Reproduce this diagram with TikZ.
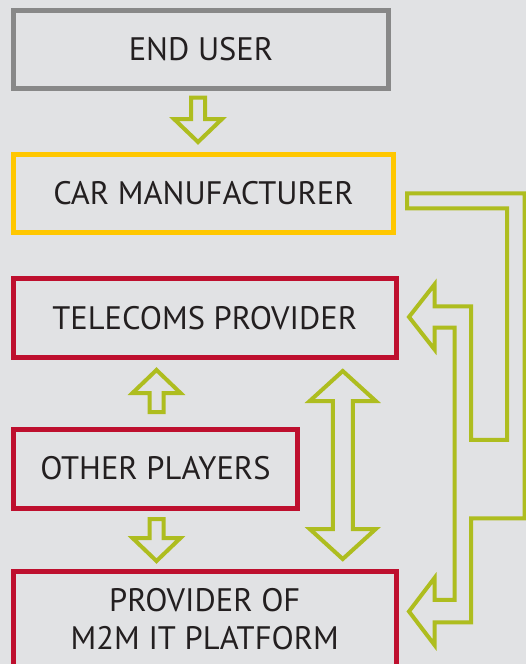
\documentclass[tikz,border=0pt]{standalone}
\usepackage{fontspec}
\setmainfont{PT Sans}
\usetikzlibrary{calc}

\definecolor{bggray}{HTML}{E1E2E4}
\definecolor{usergray}{HTML}{888888}
\definecolor{caryellow}{HTML}{FFC700}
\definecolor{m2mred}{HTML}{BE0F2E}
\definecolor{leafgreen}{HTML}{AEBD1F}
\definecolor{textdark}{HTML}{231F20}

\tikzset{
  box/.style={rectangle, draw, line width=5pt, outer sep=0pt, inner sep=0pt,
    text=textdark, font=\fontsize{32.5}{38}\selectfont, align=center},
  blockarrow/.style={draw=leafgreen, line width=4pt, line join=miter},
}

% hollow block arrow, vertical, from #1 to #2
\newcommand\blockarrow[2]{%
  \draw[blockarrow] let \p1=#1, \p2=#2, \n1={sign(\y2-\y1)} in
    (\x1-7pt,\y1) -- (\x1+7pt,\y1) -- (\x1+7pt,\y2-23pt*\n1) -- (\x1+24pt,\y2-23pt*\n1)
    -- (\x1,\y2) -- (\x1-24pt,\y2-23pt*\n1) -- (\x1-7pt,\y2-23pt*\n1) -- cycle;}

\begin{document}
\begin{tikzpicture}[x=1pt,y=-1pt]

      \useasboundingbox (0,0) rectangle (526,664);
      \fill[bggray] (0,0) rectangle (526,664);

      \begin{scope}[every node/.style={box}]
        \node[draw=usergray, minimum width=375pt, minimum height=78.5pt] (user) at (201,49.25) {END USER};
        \node[draw=caryellow, minimum width=380pt, minimum height=78.5pt] (car) at (203.5,193.25) {CAR MANUFACTURER};
        \node[draw=m2mred, minimum width=382.5pt, minimum height=79pt] (telecom) at (204.75,318) {TELECOMS PROVIDER};
        \node[draw=m2mred, minimum width=284pt, minimum height=79pt] (players) at (155.5,468.5) {OTHER PLAYERS};
        \node[draw=m2mred, minimum width=382.5pt, minimum height=96pt] (platform) at (204.75,619.5) {PROVIDER OF\\M2M IT PLATFORM};
      \end{scope}


      \blockarrow{([xshift=-3pt,yshift=-9pt]user.south)}{([yshift=12pt]car.north)}
      \blockarrow{([xshift=1pt,yshift=17pt]players.north)}{([yshift=-12.5pt]telecom.south)}
      \blockarrow{([xshift=1pt,yshift=-11pt]players.south)}{([yshift=10.5pt]platform.north)}

      % telecom <-> platform
      \draw[blockarrow] let \p1=([xshift=138pt,yshift=-13.5pt]telecom.south), \p2=([yshift=12.5pt]platform.north) in
        (\x1,\y1) -- (\x1+33pt,\y1-30pt) -- (\x1+10pt,\y1-30pt) -- (\x1+10pt,\y2+30pt) -- (\x1+33pt,\y2+30pt)
        -- (\x1,\y2) -- (\x1-33pt,\y2+30pt) -- (\x1-10pt,\y2+30pt) -- (\x1-10pt,\y1-30pt) -- (\x1-33pt,\y1-30pt) -- cycle;

      % car -> telecom and platform
      \draw[blockarrow] ([xshift=13.5pt]car.east) -- ++(117.5,0) -- ++(0,325) -- ++(-53.5,0) -- ++(0,104)
        -- ++(-36.5,0) -- ++(0,22.7) -- ++(-25.5,-33.5) -- ++(25.5,-33.5) -- ++(0,22) -- ++(20,0)
        -- ++(0,-272.3) -- ++(-20,0) -- ++(0,21.8) -- ++(-25.5,-32.5) -- ++(25.5,-32.5) -- ++(0,22)
        -- ++(36.5,0) -- ++(0,133.5) -- ++(36,0) -- ++(0,-231.5) -- ++(-100,0) -- cycle;

    \end{tikzpicture}
\end{document}
